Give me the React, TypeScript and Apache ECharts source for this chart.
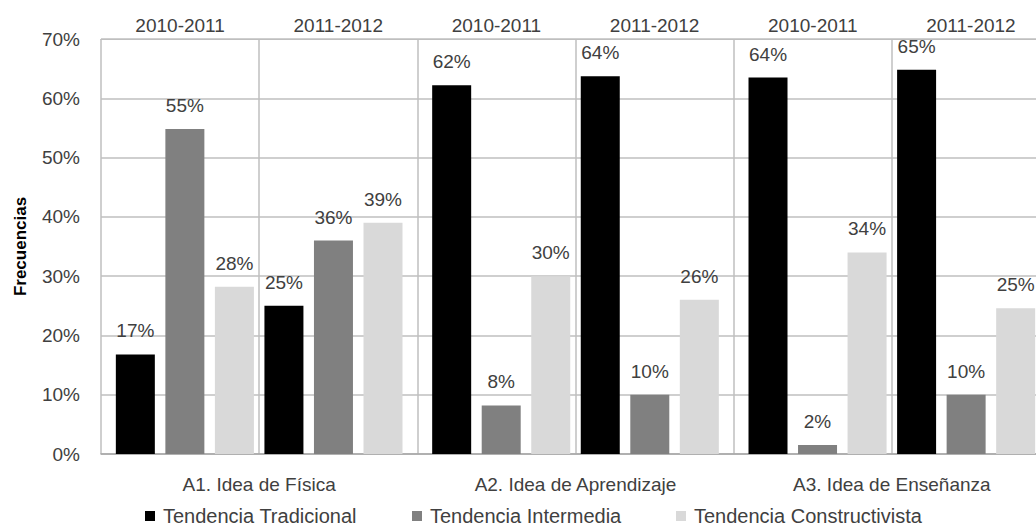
import React, { useEffect, useRef } from "react";
import * as echarts from "echarts";

const areas = ["A1. Idea de Física", "A2. Idea de Aprendizaje", "A3. Idea de Enseñanza"];
const years = ["2010-2011", "2011-2012", "2010-2011", "2011-2012", "2010-2011", "2011-2012"];
const seriesNames = ["Tendencia Tradicional", "Tendencia Intermedia", "Tendencia Constructivista"];
const seriesColors = ["#000000", "#808080", "#d9d9d9"];

// values per area: [2010-2011, 2011-2012]
const tradicional2010 = [16.8, 62.2, 63.5];
const intermedia2010 = [54.8, 8.2, 1.5];
const constructivista2010 = [28.2, 30, 34];
const tradicional2011 = [25, 63.7, 64.8];
const intermedia2011 = [36, 10, 10];
const constructivista2011 = [39, 26, 24.6];

const yTicks = { min: 0, max: 70, interval: 10 };

const FONT = "Liberation Sans, Arial, sans-serif";
const TEXT = "#404040";
const legendLefts = [145, 412, 676];

export default function App() {
  const ref = useRef<HTMLDivElement>(null);
  useEffect(() => {
    document.body.style.overflow = "hidden";
    const chart = echarts.init(ref.current!, null, { renderer: "svg" });
    const groups = [
      [seriesNames[0], seriesColors[0], tradicional2010],
      [seriesNames[1], seriesColors[1], intermedia2010],
      [seriesNames[2], seriesColors[2], constructivista2010],
      [seriesNames[0], seriesColors[0], tradicional2011],
      [seriesNames[1], seriesColors[1], intermedia2011],
      [seriesNames[2], seriesColors[2], constructivista2011],
    ] as [string, string, number[]][];
    chart.setOption({
      animation: false,
      textStyle: { fontFamily: FONT },
      grid: { left: 101, right: 10, top: 39, bottom: 77 },
      legend: seriesNames.map((n, i) => ({
        data: [n],
        left: legendLefts[i],
        top: 506,
        itemWidth: 10,
        itemHeight: 10,
        icon: "rect",
        padding: 0,
        textStyle: { fontSize: 20, color: TEXT, fontFamily: FONT, padding: [0, 0, 0, 3] },
      })),
      xAxis: [
        {
          type: "category",
          data: areas,
          position: "bottom",
          boundaryGap: true,
          axisLine: { show: true, lineStyle: { color: "#a6a6a6", width: 1.5 } },
          axisTick: { show: false },
          splitLine: { show: false },
          axisLabel: { fontSize: 19, color: TEXT, margin: 21, fontFamily: FONT },
        },
        {
          type: "category",
          data: years,
          position: "top",
          boundaryGap: true,
          axisLine: { show: true, lineStyle: { color: "#bfbfbf" } },
          axisTick: { show: false },
          splitLine: { show: true, lineStyle: { color: "#bfbfbf", width: 1.5 } },
          axisLabel: { fontSize: 19, color: TEXT, margin: 4, fontFamily: FONT },
        },
      ],
      yAxis: {
        type: "value",
        min: yTicks.min,
        max: yTicks.max,
        interval: yTicks.interval,
        name: "Frecuencias",
        nameLocation: "middle",
        nameGap: 72,
        nameRotate: 90,
        nameTextStyle: { fontSize: 17, fontWeight: "bold", color: "#000", fontFamily: FONT },
        axisLine: { show: false },
        axisTick: { show: false },
        splitLine: { show: true, lineStyle: { color: "#bfbfbf", width: 1.5 } },
        axisLabel: { formatter: "{value}%", fontSize: 19, color: TEXT, margin: 21, fontFamily: FONT },
      },
      series: groups.map(([name, color, data]) => ({
        type: "bar",
        name,
        xAxisIndex: 0,
        data,
        barWidth: 39,
        barGap: "27%",
        itemStyle: { color },
        label: {
          show: true,
          position: "top",
          distance: 14,
          fontSize: 19,
          color: TEXT,
          fontFamily: FONT,
          formatter: (p: any) => Math.round(p.value) + "%",
        },
      })),
    });
    return () => chart.dispose();
  }, []);
  return (
    <div
      ref={ref}
      style={{ position: "absolute", left: 0, top: 0, width: 1060, height: 531 }}
    />
  );
}
